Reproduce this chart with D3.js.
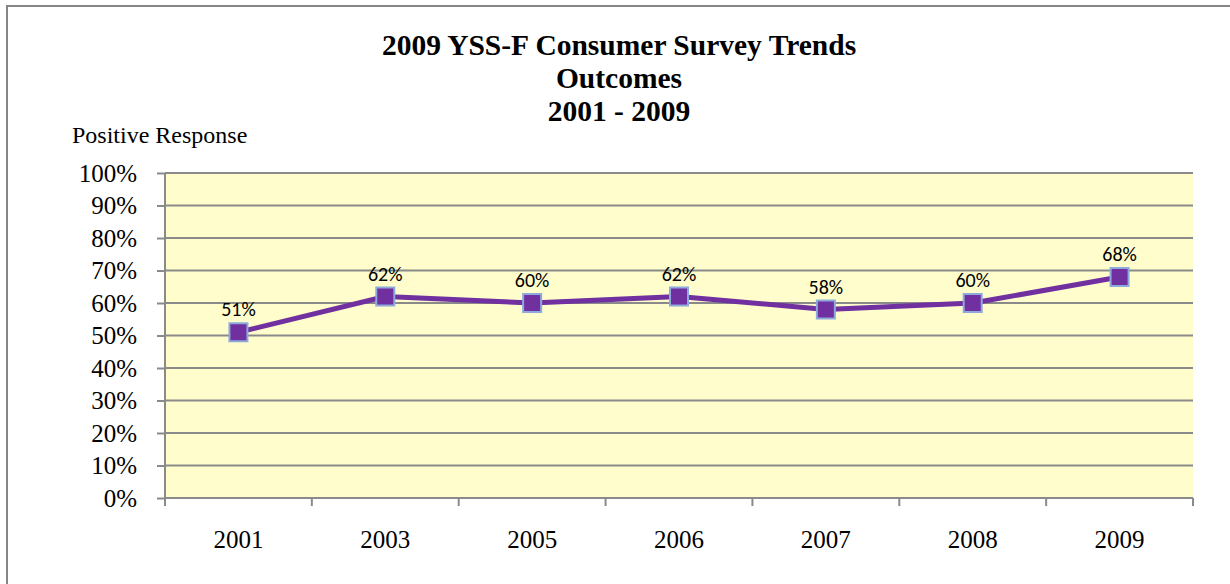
<!DOCTYPE html>
<html><head><meta charset="utf-8">
<script src="https://cdn.jsdelivr.net/npm/d3@7"></script>
<style>body{margin:0;background:#fff}svg{display:block}</style>
</head><body>
<svg id="c" width="1230" height="584"></svg>
<script>
const categories = ["2001","2003","2005","2006","2007","2008","2009"];
const values = [51,62,60,62,58,60,68];
const yTicks = [0,10,20,30,40,50,60,70,80,90,100];
const titleLines = ["2009 YSS-F Consumer Survey Trends","Outcomes","2001 - 2009"];
const yAxisTitle = "Positive Response";

const svg = d3.select("#c");
const L=165, R=1193, T=173, B=498;

svg.append("rect").attr("x",7).attr("y",6).attr("width",1240).attr("height",600)
  .attr("fill","#fff").attr("stroke","#868686").attr("stroke-width",2);

const x = d3.scaleBand().domain(categories).range([L,R]);
const y = d3.scaleLinear().domain([0,100]).range([B,T]);

svg.append("rect").attr("x",L).attr("y",T).attr("width",R-L).attr("height",B-T).attr("fill","#FFFDCC");

// gridlines
svg.append("g").selectAll("line").data(yTicks.filter(d=>d>0)).join("line")
  .attr("x1",L).attr("x2",R).attr("y1",d=>y(d)).attr("y2",d=>y(d))
  .attr("stroke","#8a8a8a").attr("stroke-width",2);

// y axis
const ya = svg.append("g").attr("transform",`translate(${L},0)`)
  .call(d3.axisLeft(y).tickValues(yTicks).tickSize(8).tickPadding(20).tickFormat(d=>d+"%"));
ya.select(".domain").attr("stroke","#8a8a8a").attr("stroke-width",2).attr("d",`M0,${T}V${B}`);
ya.selectAll(".tick line").attr("stroke","#8a8a8a").attr("stroke-width",2);
ya.selectAll("text").attr("font-family","Liberation Serif").attr("font-size",25).attr("fill","#000").attr("dy","0.33em");

// x axis
const xa = svg.append("g").attr("transform",`translate(0,${B})`)
  .call(d3.axisBottom(x).tickSize(0));
xa.select(".domain").attr("stroke","#8a8a8a").attr("stroke-width",2).attr("d",`M${L},0H${R}`);
xa.selectAll("text").attr("font-family","Liberation Serif").attr("font-size",25).attr("fill","#000")
  .attr("y",50).attr("dy",0);
const bounds = categories.map(c=>x(c)).concat([R]);
svg.append("g").selectAll("line").data(bounds).join("line")
  .attr("x1",d=>d).attr("x2",d=>d).attr("y1",B).attr("y2",B+8)
  .attr("stroke","#8a8a8a").attr("stroke-width",2);

const cx = c => x(c)+x.bandwidth()/2;
const pts = categories.map((c,i)=>({c,v:values[i]}));

svg.append("path").datum(pts)
  .attr("d",d3.line().x(d=>cx(d.c)).y(d=>y(d.v)))
  .attr("fill","none").attr("stroke","#7030A0").attr("stroke-width",5).attr("stroke-linejoin","round");

svg.append("g").selectAll("rect").data(pts).join("rect")
  .attr("x",d=>cx(d.c)-9).attr("y",d=>y(d.v)-9).attr("width",18).attr("height",18)
  .attr("fill","#7030A0").attr("stroke","#8EA9DB").attr("stroke-width",2);

svg.append("g").selectAll("text").data(pts).join("text")
  .attr("x",d=>cx(d.c)).attr("y",d=>y(d.v)-16).attr("text-anchor","middle")
  .attr("font-family","Carlito, Lato, 'Open Sans', sans-serif").attr("font-size",20).attr("fill","#000")
  .text(d=>d.v+"%");

svg.append("g").selectAll("text").data(titleLines).join("text")
  .attr("x",619).attr("y",(d,i)=>55+i*33).attr("text-anchor","middle")
  .attr("font-family","Liberation Serif").attr("font-weight","bold").attr("font-size",29.5).attr("fill","#000")
  .text(d=>d);

svg.append("text").attr("x",72).attr("y",143).attr("font-family","Liberation Serif")
  .attr("font-size",24).attr("fill","#000").text(yAxisTitle);
</script>
</body></html>
